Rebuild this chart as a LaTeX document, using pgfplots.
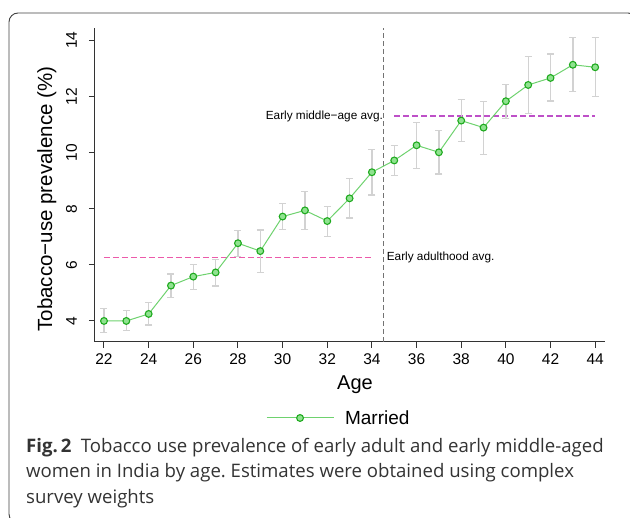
\documentclass[border=0pt]{standalone}
\usepackage{pgfplots}
\pgfplotsset{compat=1.18}
\usepackage{pgfplotstable}
\usepackage{fontspec}
\setmainfont{Liberation Sans}
\newfontfamily\capfont{Open Sans}
\frenchspacing
\definecolor{glin}{RGB}{110,210,110}
\definecolor{gfill}{RGB}{144,226,144}
\definecolor{gdraw}{RGB}{30,170,30}
\definecolor{errc}{RGB}{210,210,210}
\definecolor{adultline}{RGB}{236,90,170}
\definecolor{midline}{RGB}{190,80,200}

\pgfplotstableread{
x y ep em
22 4.00 0.45 0.42
23 4.00 0.37 0.34
24 4.25 0.40 0.39
25 5.26 0.41 0.42
26 5.58 0.42 0.45
27 5.73 0.47 0.48
28 6.77 0.45 0.48
29 6.49 0.75 0.76
30 7.72 0.46 0.45
31 7.94 0.67 0.67
32 7.56 0.51 0.54
33 8.37 0.70 0.70
34 9.30 0.82 0.81
35 9.72 0.53 0.54
36 10.26 0.80 0.82
37 10.01 0.78 0.77
38 11.14 0.76 0.75
39 10.89 0.94 0.95
40 11.83 0.60 0.62
41 12.41 1.02 1.01
42 12.66 0.85 0.82
43 13.13 0.98 0.96
44 13.04 1.07 1.05
}\married

\pgfplotstableread{
x y
22 6.26
34 6.26
}\adultavg

\pgfplotstableread{
x y
35 11.30
44 11.30
}\midavg

\begin{document}
\begin{tikzpicture}
\begin{scope}
\clip (0,0) rectangle (630pt,-518pt);
\draw[rounded corners=9pt, line width=0.9pt, black!75] (9pt,-13pt) rectangle (637pt,-523pt);
\end{scope}
\begin{axis}[
  at={(95pt,-342pt)}, anchor=south west,
  scale only axis, width=510pt, height=314pt,
  xmin=21.597, xmax=44.44, ymin=3.25, ymax=14.44,
  axis x line*=bottom, axis y line*=left,
  axis line style={line width=1pt, black!80, -},
  xtick={22,24,...,44}, ytick={4,6,...,14},
  tick align=outside, major tick length=6pt,
  tick style={line width=1pt, black!80},
  /pgf/number format/assume math mode=true,
  ticklabel style={font=\fontsize{15.5}{18}\selectfont},
  xticklabel style={yshift=-2pt},
  yticklabel style={xshift=-12pt, rotate=90, anchor=base},
  xlabel={Age}, ylabel={Tobacco−use prevalence (\%)},
  every axis x label/.style={at={(axis description cs:0.5098,-0.137)}, anchor=center, font=\fontsize{20}{24}\selectfont},
  every axis y label/.style={at={(axis description cs:-0.0843,0.455)}, rotate=90, anchor=base, font=\fontsize{20.5}{24}\selectfont},
  clip=false,
  legend style={at={(0.335,-0.242)}, anchor=west, draw=none, fill=none, inner sep=0pt, font=\fontsize{19}{22}\selectfont,
    /tikz/every odd column/.append style={column sep=9pt}},
  legend image code/.code={%
    \draw[color=glin, line width=1pt] (0pt,0pt) -- (67pt,0pt);
    \draw[color=gdraw, fill=gfill, line width=1.1pt] (33.5pt,0pt) circle[radius=3.4pt];},
]
\addplot[color=adultline, line width=1.5pt, dash pattern=on 6pt off 3pt, forget plot] table[x=x,y=y] {\adultavg};
\addplot[color=midline, line width=1.5pt, dash pattern=on 6pt off 3pt, forget plot] table[x=x,y=y] {\midavg};
\addplot[color=black!55, line width=0.8pt, dash pattern=on 5pt off 3pt, forget plot] coordinates {(34.5,3.25) (34.5,14.44)};
\addplot[draw=none, forget plot,
  error bars/.cd, y dir=both, y explicit,
  error bar style={errc, line width=1.3pt},
  error mark options={rotate=90, errc, mark size=3.5pt, line width=1.3pt}]
  table[x=x, y=y, y error plus=ep, y error minus=em] {\married};
\addplot[color=glin, line width=1pt, mark=*, mark size=3.4pt,
  mark options={fill=gfill, draw=gdraw, line width=1.1pt}]
  table[x=x, y=y] {\married};
\addlegendentry{Married}
\node[anchor=west, inner sep=0pt, font=\fontsize{11.8}{14}\selectfont] at (axis cs:29.24,11.30) {Early middle−age avg.};
\node[anchor=west, inner sep=0pt, font=\fontsize{11.8}{14}\selectfont] at (axis cs:34.66,6.26) {Early adulthood avg.};
\end{axis}
\node[anchor=base west, inner sep=0pt, text=black!80, font=\capfont\fontsize{18.6}{22}\selectfont] at (26pt,-453pt) {\textbf{Fig.\,2}\hspace{0.5em}Tobacco use prevalence of early adult and early middle-aged};
\node[anchor=base west, inner sep=0pt, text=black!80, font=\capfont\fontsize{18.6}{22}\selectfont] at (26pt,-478pt) {women in India by age. Estimates were obtained using complex};
\node[anchor=base west, inner sep=0pt, text=black!80, font=\capfont\fontsize{18.6}{22}\selectfont] at (26pt,-503.5pt) {survey weights};
\pgfresetboundingbox
\useasboundingbox (0,0) rectangle (630pt,-518pt);
\end{tikzpicture}
\end{document}
